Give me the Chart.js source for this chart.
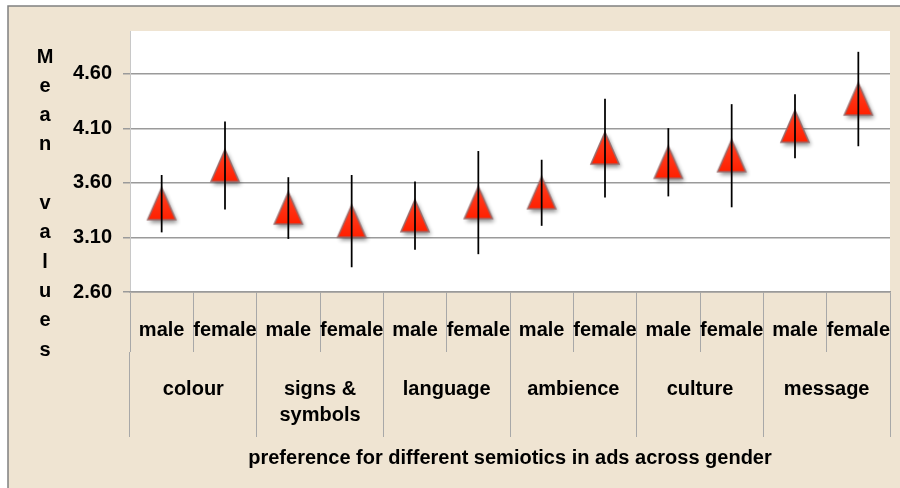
<!DOCTYPE html>
<html>
<head>
<meta charset="utf-8">
<script src="https://cdn.jsdelivr.net/npm/chart.js@4/dist/chart.umd.min.js"></script>
<style>
  html, body { margin: 0; padding: 0; background: #ffffff; }
  #wrap { width: 900px; height: 488px; position: relative; }
</style>
</head>
<body>
<div id="wrap"><canvas id="semiotics"></canvas></div>
<script>
// values
const groups = ['colour', ['signs &', 'symbols'], 'language', 'ambience', 'culture', 'message'];
const genders = ['male', 'female'];
const means = [3.41, 3.76, 3.37, 3.25, 3.30, 3.42, 3.51, 3.92, 3.79, 3.85, 4.12, 4.37];
const errors = [0.26, 0.40, 0.28, 0.42, 0.31, 0.47, 0.30, 0.45, 0.31, 0.47, 0.29, 0.43];
const yTicks = [2.6, 3.1, 3.6, 4.1, 4.6];
const yTitle = 'Mean values';
const xTitle = 'preference for different semiotics in ads across gender';

const labels = groups.flatMap(() => genders);
const font = { family: "'Liberation Sans', Arial, sans-serif", size: 20, weight: 'bold' };

// red triangle marker with a soft drop shadow, like the office chart
function makeTriangle() {
  const c = document.createElement('canvas');
  c.width = 44;
  c.height = 48;
  const g = c.getContext('2d');
  const cx = 22, cy = 24, w = 28, h = 32;
  g.beginPath();
  g.moveTo(cx, cy - h / 2);
  g.lineTo(cx + w / 2, cy + h / 2);
  g.lineTo(cx - w / 2, cy + h / 2);
  g.closePath();
  g.shadowColor = 'rgba(0,0,0,0.45)';
  g.shadowBlur = 4;
  g.shadowOffsetX = 2;
  g.shadowOffsetY = 3;
  const grad = g.createLinearGradient(0, cy - h / 2, 0, cy + h / 2);
  grad.addColorStop(0, '#ff4326');
  grad.addColorStop(1, '#ff2000');
  g.fillStyle = grad;
  g.fill();
  g.shadowColor = 'transparent';
  g.strokeStyle = 'rgba(150,105,105,0.9)';
  g.lineWidth = 1.6;
  g.stroke();
  return c;
}

// beige frame, white plot area and the stacked y title
const frame = {
  id: 'frame',
  beforeDraw(chart) {
    const { ctx, chartArea: a } = chart;
    ctx.save();
    ctx.fillStyle = '#efe4d2';
    ctx.fillRect(8, 6, chart.width - 8, chart.height - 6);
    ctx.fillStyle = '#ffffff';
    ctx.fillRect(a.left, a.top, a.right - a.left, a.bottom - a.top);
    ctx.strokeStyle = '#808080';
    ctx.lineWidth = 1.5;
    ctx.beginPath();
    ctx.moveTo(8, chart.height);
    ctx.lineTo(8, 6);
    ctx.lineTo(chart.width, 6);
    ctx.stroke();
    ctx.restore();
  },
  afterDraw(chart) {
    const ctx = chart.ctx;
    ctx.save();
    ctx.font = 'bold 20px ' + font.family;
    ctx.fillStyle = '#000';
    ctx.textAlign = 'center';
    ctx.textBaseline = 'middle';
    yTitle.split('').forEach((ch, i) => {
      ctx.fillText(ch, 45, 57 + i * 29.3);
    });
    ctx.restore();
  }
};

const ctx = document.getElementById('semiotics').getContext('2d');
const myChart = new Chart(ctx, {
  type: 'bar',
  data: {
    labels: labels,
    datasets: [
      {
        type: 'bar',
        label: 'spread',
        data: means.map((m, i) => [m - errors[i], m + errors[i]]),
        backgroundColor: '#000000',
        barThickness: 1.1,
        order: 0
      },
      {
        type: 'line',
        label: 'mean',
        data: means,
        showLine: false,
        pointStyle: makeTriangle(),
        pointRadius: 14,
        order: 1
      }
    ]
  },
  options: {
    responsive: true,
    maintainAspectRatio: false,
    animation: false,
    layout: { autoPadding: false, padding: { left: 9, right: 10, top: 31, bottom: 0 } },
    plugins: {
      legend: { display: false },
      tooltip: { enabled: false }
    },
    scales: {
      y: {
        min: 2.6,
        max: 4.994,
        afterBuildTicks: scale => { scale.ticks = yTicks.map(v => ({ value: v })); },
        afterFit: scale => { scale.width = 121; },
        grid: { color: '#9a9a9a', lineWidth: 1.5, tickLength: 7 },
        border: { display: true, color: '#c8c8c8', width: 1 },
        ticks: {
          padding: 11,
          color: '#000',
          font: font,
          callback: value => value.toFixed(2)
        }
      },
      x: {
        weight: 1,
        offset: true,
        afterFit: scale => { scale.height = 60; },
        grid: { drawOnChartArea: false, offset: true, tickLength: 60, color: '#a8a8a8', lineWidth: 1 },
        border: { display: true, color: '#9a9a9a', width: 1.5 },
        ticks: { autoSkip: false, maxRotation: 0, padding: -34, color: '#000', font: font }
      },
      x2: {
        type: 'category',
        position: 'bottom',
        weight: 2,
        labels: groups,
        offset: true,
        afterFit: scale => { scale.height = 136; },
        grid: { drawOnChartArea: false, offset: true, tickLength: 85, color: '#a8a8a8', lineWidth: 1 },
        border: { display: false },
        ticks: {
          autoSkip: false,
          maxRotation: 0,
          padding: -61,
          color: '#000',
          font: Object.assign({}, font, { lineHeight: 1.3 })
        },
        title: {
          display: true,
          text: xTitle,
          color: '#000',
          font: font,
          padding: { top: 0, bottom: 18 }
        }
      }
    }
  },
  plugins: [frame]
});
</script>
</body>
</html>
